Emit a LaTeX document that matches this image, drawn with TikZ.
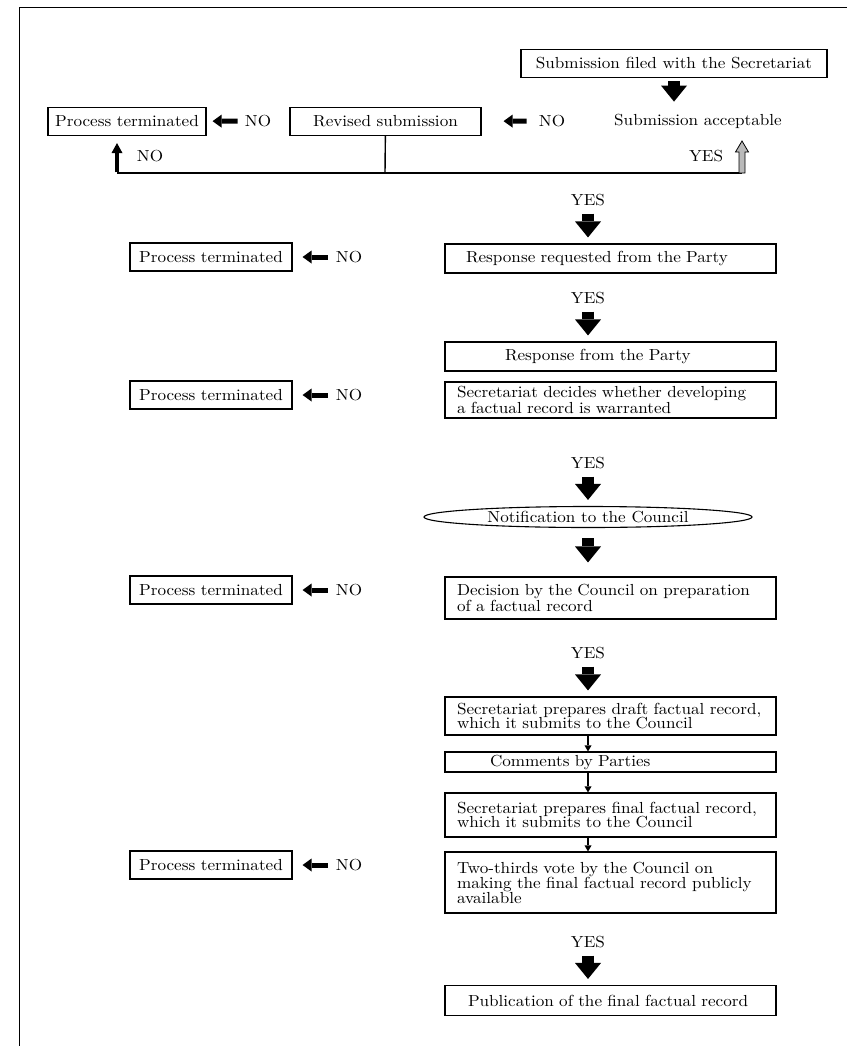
\documentclass[tikz,border=0pt]{standalone}
\usepackage{fontspec}
\setmainfont{lmroman10-regular}[Extension=.otf, FakeStretch=1.07]
\usepackage{tikz}
\usetikzlibrary{
	positioning,      % posizionamento dei nodi
	arrows.meta,      % punte di freccia (Triangle)
	shapes.geometric  % per l'ellisse
}

\begin{document}
\begin{tikzpicture}[
	x=1pt, y=-1pt,
	every node/.style={font=\fontsize{16}{14.5}\selectfont},
	riquadro/.style={draw, line width=1.1pt, inner sep=0pt, minimum height=28pt},
	riquadro_lungo/.style={draw, line width=1.1pt, text width=307pt, inner xsep=12pt, inner ysep=3pt, align=left, minimum height=29pt},
	etichetta/.style={inner sep=0pt},
	% frecce piene grandi, piccole e sottili
	freccia_grossa/.style={line width=12pt, -{Triangle[length=16pt,width=26pt,line width=0pt]}},
	freccia_piccola/.style={line width=5pt, -{Triangle[length=9pt,width=13pt,line width=0pt]}},
	freccia_sottile/.style={line width=1.6pt, -{Triangle[length=6pt,width=7pt,line width=0pt]}},
	freccia_su/.style={line width=3.5pt, -{Triangle[length=10pt,width=11pt,line width=0pt]}},
	linea/.style={line width=1.4pt}
	]
	
	\useasboundingbox (0,0) rectangle (847,1046);
	
	% --- Cornice ---
	\draw[line width=1pt] (19,1046) -- (19,8) -- (847,8);
	
	% --- Prima riga: presentazione ---
	\node[riquadro, minimum width=306pt] (sub) at (674,63.5) {Submission filed with the Secretariat};
	\node[etichetta] (accett) at (698,121) {Submission acceptable};
	\node[etichetta] (no_acc) at (552,121) {NO};
	\node[riquadro, minimum width=191pt] (rev) at (385.5,121.5) {Revised submission};
	\node[etichetta] (no_rev) at (258,121) {NO};
	\node[riquadro, minimum width=158pt] (pt_top) at (127,121.5) {Process terminated};
	\node[etichetta] (no_sx) at (150,156) {NO};
	\node[etichetta] (yes_dx) at (706,156) {YES};
	
	\coordinate (split) at (385,173);
	\coordinate (ang_sx) at (117,173);
	\coordinate (ang_dx) at (742,173);
	
	\draw[freccia_grossa, shorten <=3pt, shorten >=12pt] (sub) -- (accett.north -| sub.south);
	\draw[freccia_piccola, shorten <=12pt, shorten >=22pt] (no_acc) -- (rev);
	\draw[freccia_piccola, shorten <=7pt, shorten >=6pt] (no_rev) -- (pt_top);
	
	% --- Ramo di ritorno ---
	\draw[linea] (rev) -- (split);
	\draw[linea] (ang_sx) -- (ang_dx);
	\draw[freccia_su, shorten >=7pt] ([yshift=0.7pt]ang_sx) -- (pt_top.south -| ang_sx);
	\filldraw[fill=gray!55, line width=0.8pt] (ang_dx) ++(-3,0) -- ++(0,-21) -- ++(-3.5,0)
		-- ++(6.5,-11) -- ++(6.5,11) -- ++(-3.5,0) -- ++(0,21) -- cycle;
	
	% --- Colonna principale ---
	\coordinate (asse) at (588,0);
	\node[etichetta] (yes1) at (588,200.5) {YES};
	\node[riquadro_lungo] (resp) at (610.5,258.5) {\hspace*{9pt}Response requested from the Party};
	\node[etichetta] (yes2) at (588,298.5) {YES};
	\node[riquadro_lungo] (resp_party) at (610.5,356.5) {\hspace*{48pt}Response from the Party};
	\node[riquadro_lungo, minimum height=36pt] (decide) at (610.5,400) {Secretariat decides whether developing\\a factual record is warranted};
	\node[etichetta] (yes3) at (588,463.5) {YES};
	\node[ellipse, draw, line width=1.1pt, minimum width=328pt, minimum height=21pt, inner sep=0pt] (notif) at (588,517) {Notification to the Council};
	\node[riquadro_lungo, minimum height=42pt] (decisione) at (610.5,598) {Decision by the Council on preparation\\of a factual record};
	\node[etichetta] (yes4) at (588,653.5) {YES};
	\node[riquadro_lungo, minimum height=38pt] (bozza) at (610.5,716) {Secretariat prepares draft factual record,\\which it submits to the Council};
	\node[riquadro_lungo, minimum height=20pt, inner ysep=1pt] (commenti) at (610.5,762) {\hspace*{33pt}Comments by Parties};
	\node[riquadro_lungo, minimum height=44pt] (finale) at (610.5,815) {Secretariat prepares final factual record,\\which it submits to the Council};
	\node[riquadro_lungo, minimum height=61pt] (voto) at (610.5,882.5) {Two-thirds vote by the Council on\\making the final factual record publicly\\available};
	\node[etichetta] (yes5) at (588,942.5) {YES};
	\node[riquadro_lungo, minimum height=30pt] (pubbl) at (610.5,1000.5) {\hspace*{11pt}Publication of the final factual record};
	
	\draw[freccia_grossa, shorten <=7pt, shorten >=6pt] (yes1) -- (resp.north -| yes1);
	\draw[freccia_grossa, shorten <=7pt, shorten >=6pt] (yes2) -- (resp_party.north -| yes2);
	\draw[freccia_grossa, shorten <=7pt, shorten >=6pt] (yes3) -- (notif);
	\draw[freccia_grossa, shorten <=10pt, shorten >=14pt] (notif) -- (decisione.north -| notif);
	\draw[freccia_grossa, shorten <=7pt, shorten >=6pt] (yes4) -- (bozza.north -| yes4);
	\draw[freccia_grossa, shorten <=7pt, shorten >=6pt] (yes5) -- (pubbl.north -| yes5);
	
	\draw[freccia_sottile] (bozza.south -| asse) -- (commenti.north -| asse);
	\draw[freccia_sottile] (commenti.south -| asse) -- (finale.north -| asse);
	\draw[freccia_sottile] (finale.south -| asse) -- (voto.north -| asse);
	
	% --- Colonna sinistra: processo terminato ---
	\node[riquadro, minimum width=162pt] (pt1) at (211,257) {Process terminated};
	\node[etichetta] (no1) at (349,257) {NO};
	\node[riquadro, minimum width=162pt] (pt2) at (211,395) {Process terminated};
	\node[etichetta] (no2) at (349,395) {NO};
	\node[riquadro, minimum width=162pt] (pt3) at (211,590) {Process terminated};
	\node[etichetta] (no3) at (349,590) {NO};
	\node[riquadro, minimum width=162pt] (pt4) at (211,865) {Process terminated};
	\node[etichetta] (no4) at (349,865) {NO};
	
	\foreach \n in {1,2,3,4}
		\draw[freccia_piccola, shorten <=8pt, shorten >=10pt] (no\n) -- (pt\n);
	
\end{tikzpicture}
\end{document}
